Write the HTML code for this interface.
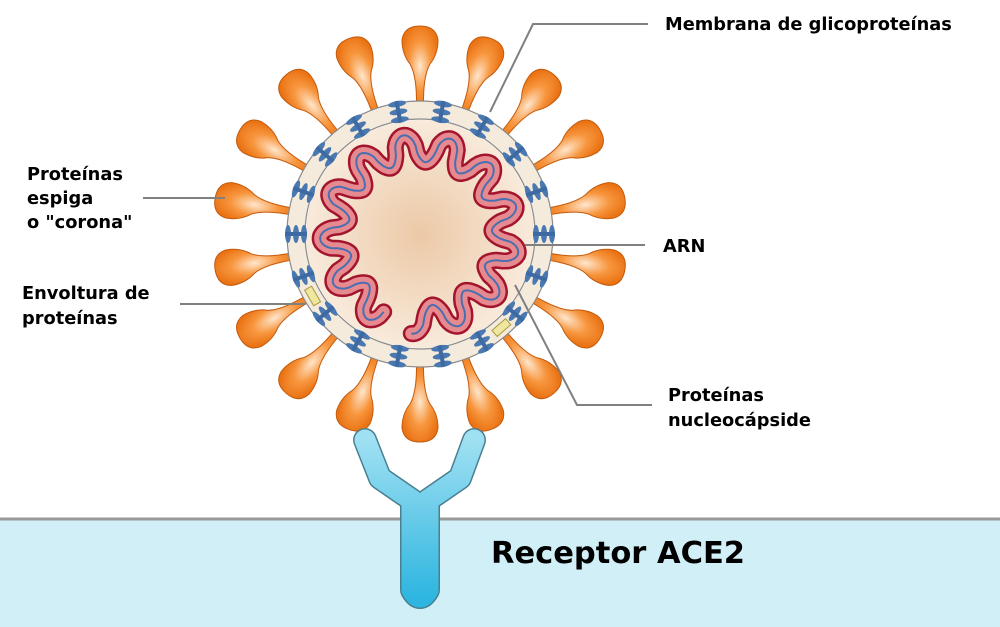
<!DOCTYPE html>
<html><head><meta charset="utf-8"><style>
html,body{margin:0;padding:0;background:#fff}
svg{display:block}
text{font-family:"DejaVu Sans","Liberation Sans",sans-serif;font-weight:bold;fill:#000}
</style></head><body>
<svg id="s" width="1000" height="627" viewBox="0 0 1000 627" xmlns="http://www.w3.org/2000/svg">
<defs>
<radialGradient id="core" cx="0.5" cy="0.5" r="0.5"><stop offset="0" stop-color="#ecc9a6"/><stop offset="1" stop-color="#f8eadb"/></radialGradient>
<radialGradient id="bulb" cx="0.5" cy="0.5" r="0.55"><stop offset="0" stop-color="#ffe6cc"/><stop offset="0.55" stop-color="#f7963e"/><stop offset="1" stop-color="#ea7314"/></radialGradient>
<linearGradient id="rec" x1="0" y1="0" x2="0" y2="1"><stop offset="0" stop-color="#9fe0f2"/><stop offset="1" stop-color="#2fb6e0"/></linearGradient>
</defs>
<rect x="0" y="519" width="1000" height="108" fill="#d0eff7"/>
<line x1="0" y1="519" x2="1000" y2="519" stroke="#9a9a9a" stroke-width="3"/>
<g id="spikes"></g>
<circle cx="420" cy="234" r="124" fill="none" stroke="#f4ebdd" stroke-width="18"/>
<circle cx="420" cy="234" r="133" fill="none" stroke="#8a8a8a" stroke-width="1.2"/>
<circle cx="420" cy="234" r="115" fill="none" stroke="#8a8a8a" stroke-width="1.2"/>
<circle cx="420" cy="234" r="114" fill="url(#core)"/>
<g id="env"></g>
<g id="glyco"></g>
<g id="rna"></g>
<path d="M365,440 L380,478 L412,500 L412,590 Q420,604 428,590 L428,500 L460,478 L474,440" fill="none" stroke="#4a7f90" stroke-width="24" stroke-linejoin="round" stroke-linecap="round"/>
<path d="M365,440 L380,478 L412,500 L412,590 Q420,604 428,590 L428,500 L460,478 L474,440" fill="none" stroke="url(#rec)" stroke-width="21" stroke-linejoin="round" stroke-linecap="round"/>
<g stroke="#808080" stroke-width="2" fill="none">
<polyline points="648,24 533,24 490,112"/>
<line x1="143" y1="198" x2="225" y2="198"/>
<line x1="645" y1="245" x2="525" y2="245"/>
<line x1="180" y1="304" x2="305" y2="304"/>
<polyline points="652,405 577,405 515,285"/>
</g>
<g font-size="17.8">
<text x="665" y="30">Membrana de glicoproteínas</text>
<text x="27" y="180">Proteínas</text>
<text x="27" y="204">espiga</text>
<text x="27" y="228">o "corona"</text>
<text x="663" y="252">ARN</text>
<text x="22" y="299">Envoltura de</text>
<text x="22" y="324">proteínas</text>
<text x="668" y="401">Proteínas</text>
<text x="668" y="426">nucleocápside</text>
</g>
<text x="491" y="563" font-size="30.5">Receptor ACE2</text>
</svg>
<script>
var NS="http://www.w3.org/2000/svg",cx=420,cy=234;
function el(t,a,p){var e=document.createElementNS(NS,t);for(var k in a)e.setAttribute(k,a[k]);document.getElementById(p).appendChild(e);return e;}
for(var k=0;k<18;k++){
 var g=el("g",{transform:"translate("+cx+","+cy+") rotate("+(10+20*k)+")"},"spikes");
 var p=document.createElementNS(NS,"path");
 p.setAttribute("d","M128,-3.5 Q158,-3 170,-10 Q180,-18 194,-18 Q208,-16 208,0 Q208,16 194,18 Q180,18 170,10 Q158,3 128,3.5 Z");
 p.setAttribute("fill","url(#bulb)");p.setAttribute("stroke","#c45a0c");p.setAttribute("stroke-width","1");g.appendChild(p);}
[150,49].forEach(function(d){el("rect",{x:-4,y:-9,width:8,height:18,fill:"#f0e6a0",stroke:"#a89a40","stroke-width":1,transform:"translate("+(cx+124*Math.cos(d*Math.PI/180))+","+(cy+124*Math.sin(d*Math.PI/180))+") rotate("+d+")"},"env");});
for(var k=0;k<18;k++){var d=20*k,x=cx+124*Math.cos(d*Math.PI/180),y=cy+124*Math.sin(d*Math.PI/180);
 var g=el("g",{transform:"translate("+x+","+y+") rotate("+d+")"},"glyco");
 [-8,0,8].forEach(function(o){var e=document.createElementNS(NS,"ellipse");e.setAttribute("cx",o);e.setAttribute("cy",0);e.setAttribute("rx",3);e.setAttribute("ry",9);e.setAttribute("fill","#4a78b0");g.appendChild(e);});
 var l=document.createElementNS(NS,"rect");l.setAttribute("x",-11);l.setAttribute("y",-2);l.setAttribute("width",22);l.setAttribute("height",4);l.setAttribute("fill","#3d6aa3");g.appendChild(l);}
var pts=[];for(var t=0;t<=340;t+=1){var th=(t+115)*Math.PI/180;var s=Math.sin(t*Math.PI/180*13);var r=86+14*Math.sign(s)*Math.pow(Math.abs(s),0.6);pts.push((cx+r*Math.cos(th)).toFixed(1)+","+(cy+r*Math.sin(th)).toFixed(1));}
var d="M"+pts.join(" L");
el("path",{d:d,fill:"none",stroke:"#a3152c","stroke-width":17,"stroke-linejoin":"round","stroke-linecap":"round"},"rna");
el("path",{d:d,fill:"none",stroke:"#e68a90","stroke-width":12,"stroke-linejoin":"round","stroke-linecap":"round"},"rna");
el("path",{d:d,fill:"none",stroke:"#4a6fb0","stroke-width":2,"stroke-linejoin":"round"},"rna");
</script>
</body></html>
